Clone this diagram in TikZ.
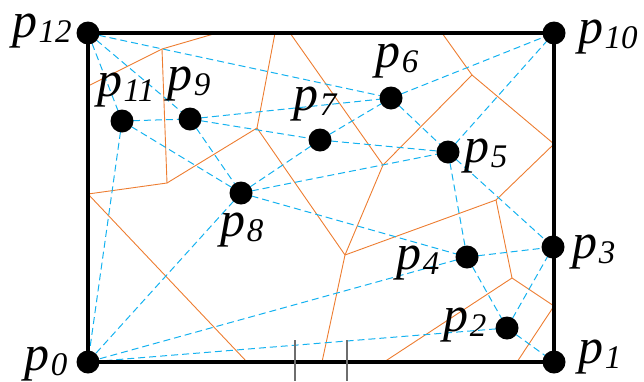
\documentclass[tikz,border=0pt]{standalone}
\usepackage{fontspec}
\setmainfont{Liberation Serif}
\definecolor{vorange}{RGB}{237,125,49}
\definecolor{dblue}{RGB}{20,178,240}
\definecolor{tickgray}{RGB}{110,110,110}
\newcommand{\plab}[1]{{\fontsize{50}{50}\selectfont\itshape p}\kern1pt\raisebox{-5pt}{\fontsize{33}{33}\selectfont\itshape #1}}
\begin{document}
\begin{tikzpicture}[x=1pt,y=-1pt,
  dot/.style={circle,fill=black,inner sep=0pt,minimum size=23pt},
  lab/.style={inner sep=0pt},
  vor/.style={draw=vorange,line width=0.9pt},
  del/.style={draw=dblue,line width=1pt,dash pattern=on 7pt off 4pt},
  frame/.style={draw=black,line width=3.4pt},
  tickmark/.style={draw=tickgray,line width=1.2pt}]
\useasboundingbox (0,0) rectangle (644,381);
% sites
\coordinate (p0) at (88,362);
\coordinate (p1) at (554,362);
\coordinate (p2) at (507,328);
\coordinate (p3) at (553,247);
\coordinate (p4) at (467,257);
\coordinate (p5) at (448,152);
\coordinate (p6) at (391,98);
\coordinate (p7) at (320,140);
\coordinate (p8) at (241,193);
\coordinate (p9) at (190,119);
\coordinate (p10) at (554,33);
\coordinate (p11) at (122,121);
\coordinate (p12) at (88,33);
% voronoi vertices
\coordinate (va) at (162,49);
\coordinate (vt1) at (217,33);
\coordinate (vl1) at (88,86);
\coordinate (vg) at (167,183);
\coordinate (vl2) at (88,194);
\coordinate (vh) at (257,128);
\coordinate (vt2) at (275,33);
\coordinate (vt3) at (290,33);
\coordinate (vb) at (383,165);
\coordinate (vc) at (345,255);
\coordinate (vd) at (472,75);
\coordinate (vt4) at (442,33);
\coordinate (vr1) at (554,144);
\coordinate (ve) at (496,200);
\coordinate (vf) at (512,278);
\coordinate (vr2) at (554,306);
\coordinate (vb1) at (247,362);
\coordinate (vb2) at (322,362);
\coordinate (vb3) at (384,362);
\coordinate (vb4) at (517,362);
% Voronoi edges
\draw[vor] (vl1) -- (va) -- (vt1);
\draw[vor] (va) -- (vg) -- (vl2) -- (vb1);
\draw[vor] (vg) -- (vh) -- (vt2);
\draw[vor] (vh) -- (vc) -- (vb2);
\draw[vor] (vt3) -- (vb) -- (vc);
\draw[vor] (vb) -- (vd) -- (vt4);
\draw[vor] (vd) -- (vr1) -- (ve) -- (vc);
\draw[vor] (ve) -- (vf) -- (vr2) -- (vb4);
\draw[vor] (vf) -- (vb3);
% Delaunay edges
\draw[del] (p12) -- (p11);
\draw[del] (p12) -- (p9);
\draw[del] (p12) -- (p6);
\draw[del] (p11) -- (p9);
\draw[del] (p11) -- (p8);
\draw[del] (p11) -- (p0);
\draw[del] (p9) -- (p8);
\draw[del] (p9) -- (p7);
\draw[del] (p9) -- (p6);
\draw[del] (p8) -- (p7);
\draw[del] (p8) -- (p5);
\draw[del] (p8) -- (p4);
\draw[del] (p8) -- (p0);
\draw[del] (p7) -- (p6);
\draw[del] (p7) -- (p5);
\draw[del] (p6) -- (p10);
\draw[del] (p6) -- (p5);
\draw[del] (p5) -- (p10);
\draw[del] (p5) -- (p4);
\draw[del] (p5) -- (p3);
\draw[del] (p4) -- (p3);
\draw[del] (p4) -- (p2);
\draw[del] (p4) -- (p0);
\draw[del] (p2) -- (p0);
\draw[del] (p2) -- (p3);
\draw[del] (p2) -- (p1);
% frame
\draw[frame] (p12) -- (p10) -- (p1) -- (p0) -- cycle;
% tick marks
\coordinate (ta) at (295,340);
\coordinate (tb) at (295,381);
\coordinate (tc) at (347,340);
\coordinate (td) at (347,381);
\draw[tickmark] (ta) -- (tb);
\draw[tickmark] (tc) -- (td);
% dots
\foreach \i in {0,...,12} {\node[dot] (d\i) at (p\i) {};}
% labels
\node[lab] (l0) at (46,364) {\plab{0}};
\node[lab] (l1) at (600,357) {\plab{1}};
\node[lab] (l2) at (465,325) {\plab{2}};
\node[lab] (l3) at (594,252) {\plab{3}};
\node[lab] (l4) at (418,263) {\plab{4}};
\node[lab] (l5) at (486,156) {\plab{5}};
\node[lab] (l6) at (397,61) {\plab{6}};
\node[lab] (l7) at (315,104) {\plab{7}};
\node[lab] (l8) at (242,230) {\plab{8}};
\node[lab] (l9) at (189,84) {\plab{9}};
\node[lab] (l10) at (608,37) {\plab{10}};
\node[lab] (l11) at (126,90) {\plab{11}};
\node[lab] (l12) at (42,31) {\plab{12}};
\end{tikzpicture}
\end{document}
